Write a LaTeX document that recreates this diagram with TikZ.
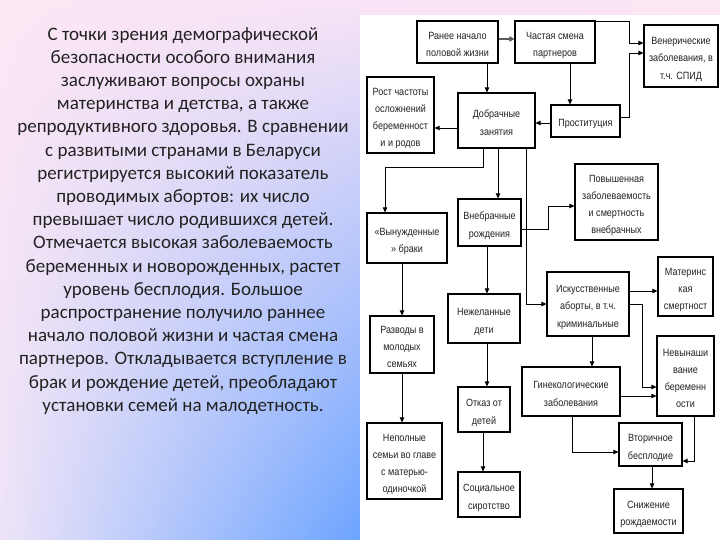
\documentclass[tikz,border=0pt]{standalone}
\usepackage{fontspec}
\setmainfont{Carlito}
\newfontfamily\diafont[FakeStretch=0.86]{Liberation Sans}
\usetikzlibrary{arrows.meta,shadings}
\definecolor{bgpink}{HTML}{FCE6F4}
\definecolor{bgpink2}{HTML}{F8E4F6}
\definecolor{bglav}{HTML}{EEE4F8}
\definecolor{bgblue}{HTML}{6CA4FF}
\definecolor{txt}{HTML}{222222}
\newcommand\bt[1]{\raisebox{-2.5pt}[\height][\depth]{\begin{tabular}{@{}c@{}}#1\end{tabular}}}
\tikzset{
  box/.style={draw=black, line width=1.2pt, fill=white, inner sep=0pt,
    font=\diafont\fontsize{10.5}{17.2}\selectfont, text=txt},
  arr/.style={draw=black, line width=0.9pt, -{Triangle[length=5pt,width=4.5pt]}},
  garr/.style={draw=gray!70!black, line width=2pt, -{Triangle[length=5pt,width=5.5pt]}}
}
\begin{document}
\begin{tikzpicture}[x=1pt,y=-1pt]
\useasboundingbox (0,0) rectangle (720,540);
% background
\shade[upper left=bgpink, upper right=bgpink2, lower left=bglav, lower right=bgblue] (0,0) rectangle (360,540);
\shade[left color=bgpink2, right color=bgpink] (360,0) rectangle (720,15);
\fill[white] (360,15) rectangle (720,540);
% left text
\node[anchor=north, align=center, text=txt, font=\fontsize{19}{23.2}\selectfont, inner sep=0pt] (maintext) at (183,27) {%
С точки зрения демографической\\
безопасности особого внимания\\
заслуживают вопросы охраны\\
материнства и детства, а также\\
репродуктивного здоровья. В сравнении\\
с развитыми странами в Беларуси\\
регистрируется высокий показатель\\
проводимых абортов: их число\\
превышает число родившихся детей.\\
Отмечается высокая заболеваемость\\
беременных и новорожденных, растет\\
уровень бесплодия. Большое\\
распространение получило раннее\\
начало половой жизни и частая смена\\
партнеров. Откладывается вступление в\\
брак и рождение детей, преобладают\\
установки семей на малодетность.};
% boxes
\node[box, minimum width=81, minimum height=42] (ranee) at (457.5,42) {\bt{Ранее начало\\половой жизни}};
\node[box, minimum width=80, minimum height=42] (chast) at (555,42) {\bt{Частая смена\\партнеров}};
\node[box, minimum width=74, minimum height=62] (vener) at (681,56) {\bt{Венерические\\заболевания, в\\т.ч. СПИД}};
\node[box, minimum width=67, minimum height=76] (rost) at (400.5,115) {\bt{Рост частоты\\осложнений\\беременност\\и и родов}};
\node[box, minimum width=77, minimum height=55] (dobr) at (496.5,120.5) {\bt{Добрачные\\занятия}};
\node[box, minimum width=69, minimum height=32] (prost) at (585.5,121) {\bt{Проституция}};
\node[box, minimum width=63, minimum height=47] (vneb) at (489.5,222.5) {\bt{Внебрачные\\рождения}};
\node[box, minimum width=83, minimum height=76] (povysh) at (616.5,202) {\bt{Повышенная\\заболеваемость\\и смертность\\внебрачных}};
\node[box, minimum width=80, minimum height=50] (vynuzh) at (407,238) {\bt{«Вынужденные\\» браки}};
\node[box, minimum width=55, minimum height=59] (mater) at (685.5,286.5) {\bt{Материнс\\кая\\смертност}};
\node[box, minimum width=64, minimum height=57] (razvod) at (402,344.5) {\bt{Разводы в\\молодых\\семьях}};
\node[box, minimum width=72, minimum height=49] (nezhel) at (484,318.5) {\bt{Нежеланные\\дети}};
\node[box, minimum width=82, minimum height=64] (iskus) at (588,304) {\bt{Искусственные\\аборты, в т.ч.\\криминальные}};
\node[box, minimum width=57, minimum height=80] (nevyn) at (685.5,376) {\bt{Невынаши\\вание\\беременн\\ости}};
\node[box, minimum width=98, minimum height=49] (ginek) at (571,391.5) {\bt{Гинекологические\\заболевания}};
\node[box, minimum width=52, minimum height=45] (otkaz) at (484,409.5) {\bt{Отказ от\\детей}};
\node[box, minimum width=75, minimum height=76] (nepoln) at (404.5,461) {\bt{Неполные\\семьи во главе\\с матерью-\\одиночкой}};
\node[box, minimum width=62, minimum height=45] (sots) at (489,494.5) {\bt{Социальное\\сиротство}};
\node[box, minimum width=63, minimum height=43] (vtor) at (650.5,444.5) {\bt{Вторичное\\бесплодие}};
\node[box, minimum width=69, minimum height=44] (snizh) at (648.5,511) {\bt{Снижение\\рождаемости}};
% connectors
\draw[garr] ([yshift=3pt]ranee.east) -- ([yshift=3pt]chast.west);
\draw[arr] ([yshift=-1pt]chast.north east) -- ++(34,0) |- ([yshift=13pt]vener.west);
\draw[arr] ([yshift=4pt]prost.east) -- ++(9,0) |- ([yshift=3pt]vener.west);
\draw[arr] ([xshift=29.5pt]ranee.south) -- ([xshift=29.5pt]ranee.south |- dobr.north);
\draw[arr] ([xshift=15pt]chast.south) -- ([xshift=15pt]chast.south |- prost.north);
\draw[arr] ([yshift=-2pt]prost.west) -- ([yshift=-2pt]prost.west -| dobr.east);
\draw[arr] ([yshift=-7.5pt]dobr.west) -- ([yshift=-7.5pt]dobr.west -| rost.east);
\draw[arr] ([xshift=-13.5pt]dobr.south) -- ++(0,19) -| ([xshift=-22pt]vynuzh.north);
\draw[arr] ([xshift=1.5pt]dobr.south) -- ([xshift=1.5pt]dobr.south |- vneb.north);
\draw[arr] ([xshift=29.5pt]dobr.south) |- (iskus.west);
\draw[arr] ([yshift=-6.5pt]vneb.east) -- ++(27,0) |- ([yshift=-4pt]povysh.west);
\draw[arr] ([xshift=-5pt]vynuzh.south) -- ([xshift=-5pt]vynuzh.south |- razvod.north);
\draw[arr] ([xshift=-2.5pt]vneb.south) -- ([xshift=-2.5pt]vneb.south |- nezhel.north);
\draw[arr] ([yshift=13pt]iskus.east) -- ([yshift=13pt]iskus.east -| mater.west);
\draw[arr] (iskus.east) -- ++(13,0) |- ([yshift=-11pt]nevyn.west);
\draw[arr] ([xshift=4pt]iskus.south) -- ([xshift=4pt]iskus.south |- ginek.north);
\draw[arr] ([yshift=-4.5pt]ginek.east) -- ([yshift=-4.5pt]ginek.east -| nevyn.west);
\draw[arr] (razvod.south) -- (razvod.south |- nepoln.north);
\draw[arr] ([xshift=3pt]nezhel.south) -- ([xshift=3pt]nezhel.south |- otkaz.north);
\draw[arr] ([xshift=-1pt]otkaz.south) -- ([xshift=-1pt]otkaz.south |- sots.north);
\draw[arr] ([xshift=1pt]ginek.south) |- ([yshift=-7.5pt]vtor.west);
\draw[arr] ([xshift=8.5pt]nevyn.south) |- ([yshift=-16.5pt]vtor.east);
\draw[arr] ([xshift=1.5pt]vtor.south) -- ([xshift=1.5pt]vtor.south |- snizh.north);
\end{tikzpicture}
\end{document}
